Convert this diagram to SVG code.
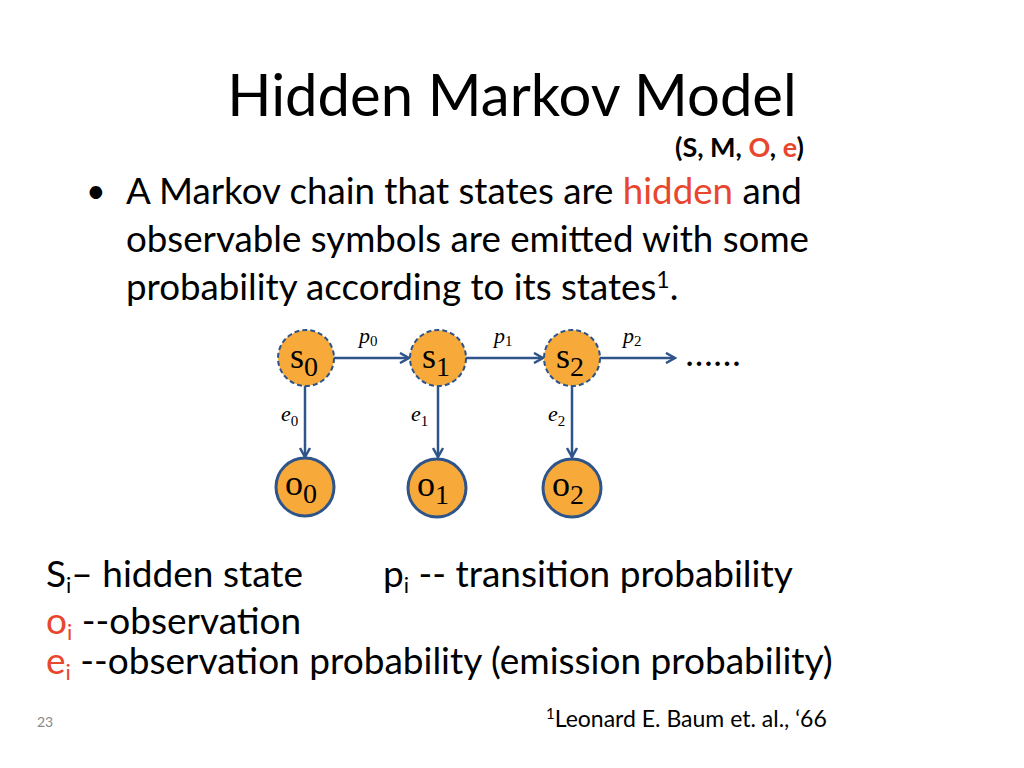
<svg xmlns="http://www.w3.org/2000/svg" width="1024" height="768" viewBox="0 0 1024 768">
<style>
.t{font-family:Lato,"Open Sans",sans-serif;fill:#000}
.r{fill:#e8462e}
.m{font-family:"Liberation Serif",serif;fill:#000}
.s{fill:#f7aa3a;stroke:#2e5489;stroke-width:2;stroke-dasharray:5,3}
.o{fill:#f7aa3a;stroke:#2e5489;stroke-width:3}
.c line{stroke:#2e5489;stroke-width:2.5;marker-end:url(#a)}
</style>
<defs><marker id="a" markerWidth="12" markerHeight="12" refX="10" refY="6" orient="auto" markerUnits="userSpaceOnUse"><path d="M1,1 L10,6 L1,11" fill="none" stroke="#2e5489" stroke-width="2.5"/></marker></defs>
<rect width="1024" height="768" fill="#fff"/>
<text class="t" x="512" y="116" font-size="58" text-anchor="middle">Hidden Markov Model</text>
<text class="t" x="675" y="157" font-size="27" font-weight="bold">(S, M, <tspan class="r">O</tspan>, <tspan class="r">e</tspan>)</text>
<text class="t" x="86" y="203" font-size="34">•</text>
<text class="t" x="126" y="204" font-size="36.7">A Markov chain that states are <tspan class="r">hidden</tspan> and</text>
<text class="t" x="126" y="252" font-size="36.7">observable symbols are emitted with some</text>
<text class="t" x="126" y="300" font-size="36.7">probability according to its states<tspan font-size="23" dy="-12">1</tspan><tspan dy="12">.</tspan></text>
<g class="c">
<line x1="334" y1="358" x2="409" y2="358"/>
<line x1="466" y1="358" x2="543" y2="358"/>
<line x1="600" y1="358" x2="675" y2="358"/>
<line x1="305" y1="386" x2="305" y2="457"/>
<line x1="438" y1="386" x2="438" y2="457"/>
<line x1="572" y1="386" x2="572" y2="457"/>
</g>
<text class="m" x="359" y="343" font-size="22" font-style="italic">p<tspan font-size="15" font-style="normal" dy="3">0</tspan></text>
<text class="m" x="494" y="343" font-size="22" font-style="italic">p<tspan font-size="15" font-style="normal" dy="3">1</tspan></text>
<text class="m" x="623" y="343" font-size="22" font-style="italic">p<tspan font-size="15" font-style="normal" dy="3">2</tspan></text>
<text class="m" x="281" y="421" font-size="22" font-style="italic">e<tspan font-size="15" font-style="normal" dy="5">0</tspan></text>
<text class="m" x="411" y="421" font-size="22" font-style="italic">e<tspan font-size="15" font-style="normal" dy="5">1</tspan></text>
<text class="m" x="548" y="421" font-size="22" font-style="italic">e<tspan font-size="15" font-style="normal" dy="5">2</tspan></text>
<text class="m" x="685" y="366" font-size="28" font-weight="bold">……</text>
<g id="s0"><circle class="s" cx="306" cy="358" r="28"/><text class="m" x="290" y="368" font-size="36">s<tspan font-size="28" dy="8">0</tspan></text></g>
<g id="s1"><circle class="s" cx="438" cy="358" r="28"/><text class="m" x="422" y="368" font-size="36">s<tspan font-size="28" dy="8">1</tspan></text></g>
<g id="s2"><circle class="s" cx="572" cy="358" r="28"/><text class="m" x="556" y="368" font-size="36">s<tspan font-size="28" dy="8">2</tspan></text></g>
<g id="o0"><circle class="o" cx="305" cy="487" r="29"/><text class="m" x="285" y="495" font-size="36">o<tspan font-size="28" dy="8">0</tspan></text></g>
<g id="o1"><circle class="o" cx="437" cy="488" r="29"/><text class="m" x="417" y="496" font-size="36">o<tspan font-size="28" dy="8">1</tspan></text></g>
<g id="o2"><circle class="o" cx="572" cy="488" r="29"/><text class="m" x="552" y="496" font-size="36">o<tspan font-size="28" dy="8">2</tspan></text></g>
<text class="t" x="46" y="587" font-size="37">S<tspan font-size="22" dy="6">i</tspan><tspan dy="-6">– hidden state</tspan></text>
<text class="t" x="383" y="587" font-size="37">p<tspan font-size="22" dy="6">i</tspan><tspan dy="-6"> -- transition probability</tspan></text>
<text class="t" x="46" y="634" font-size="37"><tspan class="r">o</tspan><tspan class="r" font-size="22" dy="6">i</tspan><tspan dy="-6"> --observation</tspan></text>
<text class="t" x="46" y="674" font-size="37"><tspan class="r">e</tspan><tspan class="r" font-size="22" dy="6">i</tspan><tspan dy="-6"> --observation probability (emission probability)</tspan></text>
<text class="t" x="37" y="727" font-size="14" style="fill:#888">23</text>
<text class="t" x="546" y="727" font-size="23"><tspan font-size="15" dy="-8">1</tspan><tspan dy="8">Leonard E. Baum et. al., ‘66</tspan></text>
</svg>
